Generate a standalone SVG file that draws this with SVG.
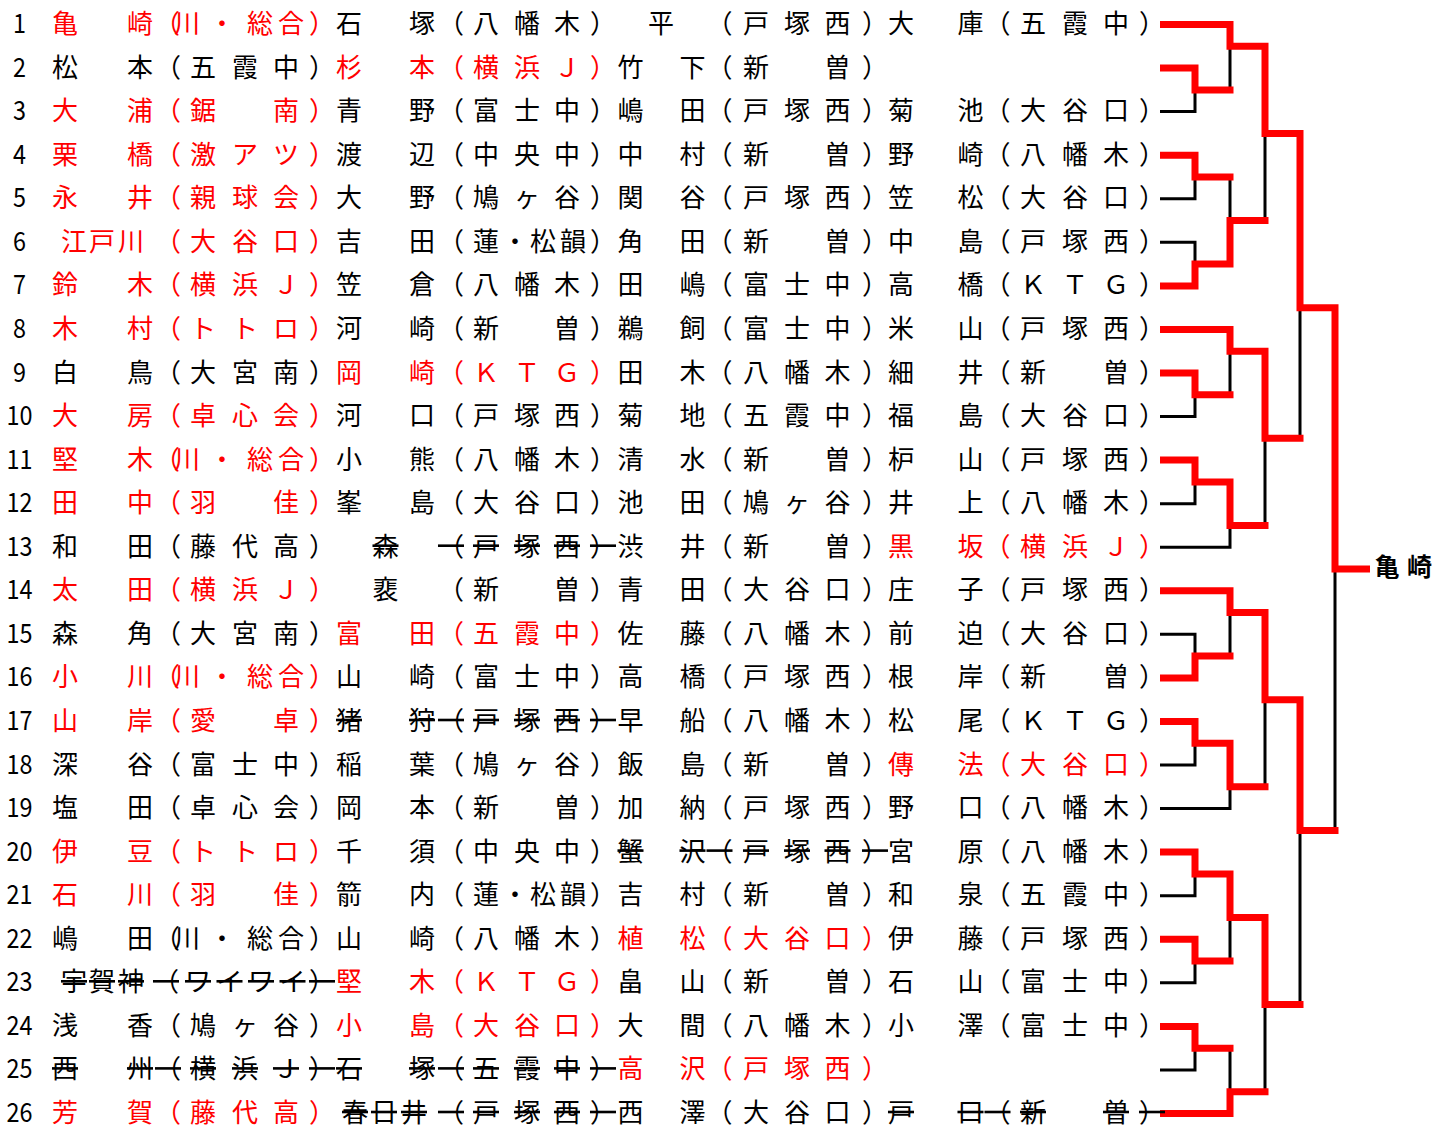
<svg xmlns="http://www.w3.org/2000/svg" width="1449" height="1129" viewBox="0 0 1449 1129">
<style>
.t{font-family:"Noto Sans CJK JP","Noto Sans CJK SC",sans-serif;font-size:26px;text-anchor:middle;fill:#000}
.r{fill:#f00}
.s{text-decoration:line-through}
.n{font-family:"Noto Sans CJK JP","Noto Sans CJK SC",sans-serif;font-size:27px;text-anchor:middle;fill:#000}
.champ{font-weight:700;font-size:25px}
.w{stroke:#f00;stroke-width:7;fill:none;stroke-linejoin:miter}
.b{stroke:#000;stroke-width:3;fill:none;stroke-linejoin:miter}
</style>
<rect width="1449" height="1129" fill="#fff"/>
<g id="connectors">
<g id="losers-black">
<path class="b" d="M1160,111.6H1195V89.9"/>
<path class="b" d="M1160,198.7H1195V177"/>
<path class="b" d="M1160,242.3H1195V264.1"/>
<path class="b" d="M1160,416.5H1195V394.8"/>
<path class="b" d="M1160,503.7H1195V481.9"/>
<path class="b" d="M1160,547.2H1230V525.5"/>
<path class="b" d="M1160,634.3H1195V656.1"/>
<path class="b" d="M1160,765H1195V743.3"/>
<path class="b" d="M1160,808.6H1230V786.8"/>
<path class="b" d="M1160,895.7H1195V873.9"/>
<path class="b" d="M1160,982.8H1195V961.1"/>
<path class="b" d="M1160,1069.9H1195V1048.2"/>
<path class="b" d="M1230,46.3V89.9M1230,177V220.5M1230,351.2V394.8M1230,612.6V656.1M1230,917.5V961.1M1230,1048.2V1091.7"/>
<path class="b" d="M1265,133.4V220.5M1265,438.3V525.5M1265,699.7V786.8M1265,1004.6V1091.7"/>
<path class="b" d="M1300,307.7V438.3M1300,830.4V1004.6"/>
<path class="b" d="M1335,569V830.4"/>
</g>
<g id="winners-red">
<path class="w" d="M1160,68.1H1195V89.9H1233.5"/>
<path class="w" d="M1160,155.2H1195V177H1233.5"/>
<path class="w" d="M1160,285.9H1195V264.1H1230V220.5H1268.5"/>
<path class="w" d="M1160,329.4H1230V351.2H1265V438.3H1303.5"/>
<path class="w" d="M1160,373H1195V394.8H1233.5"/>
<path class="w" d="M1160,460.1H1195V481.9H1230V525.5H1268.5"/>
<path class="w" d="M1160,590.8H1230V612.6H1265V699.7H1300V830.4H1338.5"/>
<path class="w" d="M1160,677.9H1195V656.1H1233.5"/>
<path class="w" d="M1160,721.5H1195V743.3H1230V786.8H1268.5"/>
<path class="w" d="M1160,852.1H1195V873.9H1230V917.5H1265V1004.6H1303.5"/>
<path class="w" d="M1160,939.3H1195V961.1H1233.5"/>
<path class="w" d="M1160,1026.4H1195V1048.2H1233.5"/>
<path class="w" d="M1160,1113.5H1230V1091.7H1268.5"/>
<path class="w" d="M1160,24.5H1230V46.3H1265V133.4H1300V307.7H1335V569H1370"/>
</g>
</g>
<g id="champion"><text class="t champ" x="1387 1419.5" y="575.5">亀崎</text></g>

<g id="row-1" transform="translate(0,33)">
<text class="n" x="19.5" y="0" textLength="13" lengthAdjust="spacingAndGlyphs">1</text>
<text class="t r" x="65 140 167 187 222 260 291 322" y="0">亀崎（川・総合）</text>
<text class="t" x="349 422 451 486 527 567 603" y="0">石塚（八幡木）</text>
<text class="t" x="661 719.5 756 797 837.5 875" y="0">平（戸塚西）</text>
<text class="t" x="901 970.5 997.5 1033 1075 1116 1152" y="0">大庫（五霞中）</text>
</g>
<g id="row-2" transform="translate(0,76.6)">
<text class="n" x="19.5" y="0" textLength="13" lengthAdjust="spacingAndGlyphs">2</text>
<text class="t" x="65 140 168 203 245 286 322" y="0">松本（五霞中）</text>
<text class="t r" x="349 422 451 486 527 567 603" y="0">杉本（横浜Ｊ）</text>
<text class="t" x="630.5 692.5 719.5 756 837.5 875" y="0">竹下（新曽）</text>
</g>
<g id="row-3" transform="translate(0,120.1)">
<text class="n" x="19.5" y="0" textLength="13" lengthAdjust="spacingAndGlyphs">3</text>
<text class="t r" x="65 140 168 203 286 322" y="0">大浦（鋸南）</text>
<text class="t" x="349 422 451 486 527 567 603" y="0">青野（富士中）</text>
<text class="t" x="630.5 692.5 719.5 756 797 837.5 875" y="0">嶋田（戸塚西）</text>
<text class="t" x="901 970.5 997.5 1033 1075 1116 1152" y="0">菊池（大谷口）</text>
</g>
<g id="row-4" transform="translate(0,163.7)">
<text class="n" x="19.5" y="0" textLength="13" lengthAdjust="spacingAndGlyphs">4</text>
<text class="t r" x="65 140 168 203 245 286 322" y="0">栗橋（激アツ）</text>
<text class="t" x="349 422 451 486 527 567 603" y="0">渡辺（中央中）</text>
<text class="t" x="630.5 692.5 719.5 756 837.5 875" y="0">中村（新曽）</text>
<text class="t" x="901 970.5 997.5 1033 1075 1116 1152" y="0">野崎（八幡木）</text>
</g>
<g id="row-5" transform="translate(0,207.2)">
<text class="n" x="19.5" y="0" textLength="13" lengthAdjust="spacingAndGlyphs">5</text>
<text class="t r" x="65 140 168 203 245 286 322" y="0">永井（親球会）</text>
<text class="t" x="349 422 451 486 527 567 603" y="0">大野（鳩ヶ谷）</text>
<text class="t" x="630.5 692.5 719.5 756 797 837.5 875" y="0">関谷（戸塚西）</text>
<text class="t" x="901 970.5 997.5 1033 1075 1116 1152" y="0">笠松（大谷口）</text>
</g>
<g id="row-6" transform="translate(0,250.8)">
<text class="n" x="19.5" y="0" textLength="13" lengthAdjust="spacingAndGlyphs">6</text>
<text class="t r" x="74 102 131 168 203 245 286 322" y="0">江戸川（大谷口）</text>
<text class="t" x="349 422 451 486 515 543 573 603" y="0">吉田（蓮・松韻）</text>
<text class="t" x="630.5 692.5 719.5 756 837.5 875" y="0">角田（新曽）</text>
<text class="t" x="901 970.5 997.5 1033 1075 1116 1152" y="0">中島（戸塚西）</text>
</g>
<g id="row-7" transform="translate(0,294.4)">
<text class="n" x="19.5" y="0" textLength="13" lengthAdjust="spacingAndGlyphs">7</text>
<text class="t r" x="65 140 168 203 245 286 322" y="0">鈴木（横浜Ｊ）</text>
<text class="t" x="349 422 451 486 527 567 603" y="0">笠倉（八幡木）</text>
<text class="t" x="630.5 692.5 719.5 756 797 837.5 875" y="0">田嶋（富士中）</text>
<text class="t" x="901 970.5 997.5 1033 1075 1116 1152" y="0">高橋（ＫＴＧ）</text>
</g>
<g id="row-8" transform="translate(0,337.9)">
<text class="n" x="19.5" y="0" textLength="13" lengthAdjust="spacingAndGlyphs">8</text>
<text class="t r" x="65 140 168 203 245 286 322" y="0">木村（トトロ）</text>
<text class="t" x="349 422 451 486 567 603" y="0">河崎（新曽）</text>
<text class="t" x="630.5 692.5 719.5 756 797 837.5 875" y="0">鵜飼（富士中）</text>
<text class="t" x="901 970.5 997.5 1033 1075 1116 1152" y="0">米山（戸塚西）</text>
</g>
<g id="row-9" transform="translate(0,381.5)">
<text class="n" x="19.5" y="0" textLength="13" lengthAdjust="spacingAndGlyphs">9</text>
<text class="t" x="65 140 168 203 245 286 322" y="0">白鳥（大宮南）</text>
<text class="t r" x="349 422 451 486 527 567 603" y="0">岡崎（ＫＴＧ）</text>
<text class="t" x="630.5 692.5 719.5 756 797 837.5 875" y="0">田木（八幡木）</text>
<text class="t" x="901 970.5 997.5 1033 1116 1152" y="0">細井（新曽）</text>
</g>
<g id="row-10" transform="translate(0,425)">
<text class="n" x="19.5" y="0" textLength="26" lengthAdjust="spacingAndGlyphs">10</text>
<text class="t r" x="65 140 168 203 245 286 322" y="0">大房（卓心会）</text>
<text class="t" x="349 422 451 486 527 567 603" y="0">河口（戸塚西）</text>
<text class="t" x="630.5 692.5 719.5 756 797 837.5 875" y="0">菊地（五霞中）</text>
<text class="t" x="901 970.5 997.5 1033 1075 1116 1152" y="0">福島（大谷口）</text>
</g>
<g id="row-11" transform="translate(0,468.6)">
<text class="n" x="19.5" y="0" textLength="26" lengthAdjust="spacingAndGlyphs">11</text>
<text class="t r" x="65 140 167 187 222 260 291 322" y="0">堅木（川・総合）</text>
<text class="t" x="349 422 451 486 527 567 603" y="0">小熊（八幡木）</text>
<text class="t" x="630.5 692.5 719.5 756 837.5 875" y="0">清水（新曽）</text>
<text class="t" x="901 970.5 997.5 1033 1075 1116 1152" y="0">枦山（戸塚西）</text>
</g>
<g id="row-12" transform="translate(0,512.2)">
<text class="n" x="19.5" y="0" textLength="26" lengthAdjust="spacingAndGlyphs">12</text>
<text class="t r" x="65 140 168 203 286 322" y="0">田中（羽佳）</text>
<text class="t" x="349 422 451 486 527 567 603" y="0">峯島（大谷口）</text>
<text class="t" x="630.5 692.5 719.5 756 797 837.5 875" y="0">池田（鳩ヶ谷）</text>
<text class="t" x="901 970.5 997.5 1033 1075 1116 1152" y="0">井上（八幡木）</text>
</g>
<g id="row-13" transform="translate(0,555.7)">
<text class="n" x="19.5" y="0" textLength="26" lengthAdjust="spacingAndGlyphs">13</text>
<text class="t" x="65 140 168 203 245 286 322" y="0">和田（藤代高）</text>
<text class="t s" x="385.5 451 486 527 567 603" y="0">森（戸塚西）</text>
<text class="t" x="630.5 692.5 719.5 756 837.5 875" y="0">渋井（新曽）</text>
<text class="t r" x="901 970.5 997.5 1033 1075 1116 1152" y="0">黒坂（横浜Ｊ）</text>
</g>
<g id="row-14" transform="translate(0,599.3)">
<text class="n" x="19.5" y="0" textLength="26" lengthAdjust="spacingAndGlyphs">14</text>
<text class="t r" x="65 140 168 203 245 286 322" y="0">太田（横浜Ｊ）</text>
<text class="t" x="385.5 451 486 567 603" y="0">裵（新曽）</text>
<text class="t" x="630.5 692.5 719.5 756 797 837.5 875" y="0">青田（大谷口）</text>
<text class="t" x="901 970.5 997.5 1033 1075 1116 1152" y="0">庄子（戸塚西）</text>
</g>
<g id="row-15" transform="translate(0,642.8)">
<text class="n" x="19.5" y="0" textLength="26" lengthAdjust="spacingAndGlyphs">15</text>
<text class="t" x="65 140 168 203 245 286 322" y="0">森角（大宮南）</text>
<text class="t r" x="349 422 451 486 527 567 603" y="0">富田（五霞中）</text>
<text class="t" x="630.5 692.5 719.5 756 797 837.5 875" y="0">佐藤（八幡木）</text>
<text class="t" x="901 970.5 997.5 1033 1075 1116 1152" y="0">前迫（大谷口）</text>
</g>
<g id="row-16" transform="translate(0,686.4)">
<text class="n" x="19.5" y="0" textLength="26" lengthAdjust="spacingAndGlyphs">16</text>
<text class="t r" x="65 140 167 187 222 260 291 322" y="0">小川（川・総合）</text>
<text class="t" x="349 422 451 486 527 567 603" y="0">山崎（富士中）</text>
<text class="t" x="630.5 692.5 719.5 756 797 837.5 875" y="0">高橋（戸塚西）</text>
<text class="t" x="901 970.5 997.5 1033 1116 1152" y="0">根岸（新曽）</text>
</g>
<g id="row-17" transform="translate(0,730)">
<text class="n" x="19.5" y="0" textLength="26" lengthAdjust="spacingAndGlyphs">17</text>
<text class="t r" x="65 140 168 203 286 322" y="0">山岸（愛卓）</text>
<text class="t s" x="349 422 451 486 527 567 603" y="0">猪狩（戸塚西）</text>
<text class="t" x="630.5 692.5 719.5 756 797 837.5 875" y="0">早船（八幡木）</text>
<text class="t" x="901 970.5 997.5 1033 1075 1116 1152" y="0">松尾（ＫＴＧ）</text>
</g>
<g id="row-18" transform="translate(0,773.5)">
<text class="n" x="19.5" y="0" textLength="26" lengthAdjust="spacingAndGlyphs">18</text>
<text class="t" x="65 140 168 203 245 286 322" y="0">深谷（富士中）</text>
<text class="t" x="349 422 451 486 527 567 603" y="0">稲葉（鳩ヶ谷）</text>
<text class="t" x="630.5 692.5 719.5 756 837.5 875" y="0">飯島（新曽）</text>
<text class="t r" x="901 970.5 997.5 1033 1075 1116 1152" y="0">傳法（大谷口）</text>
</g>
<g id="row-19" transform="translate(0,817.1)">
<text class="n" x="19.5" y="0" textLength="26" lengthAdjust="spacingAndGlyphs">19</text>
<text class="t" x="65 140 168 203 245 286 322" y="0">塩田（卓心会）</text>
<text class="t" x="349 422 451 486 567 603" y="0">岡本（新曽）</text>
<text class="t" x="630.5 692.5 719.5 756 797 837.5 875" y="0">加納（戸塚西）</text>
<text class="t" x="901 970.5 997.5 1033 1075 1116 1152" y="0">野口（八幡木）</text>
</g>
<g id="row-20" transform="translate(0,860.6)">
<text class="n" x="19.5" y="0" textLength="26" lengthAdjust="spacingAndGlyphs">20</text>
<text class="t r" x="65 140 168 203 245 286 322" y="0">伊豆（トトロ）</text>
<text class="t" x="349 422 451 486 527 567 603" y="0">千須（中央中）</text>
<text class="t s" x="630.5 692.5 719.5 756 797 837.5 875" y="0">蟹沢（戸塚西）</text>
<text class="t" x="901 970.5 997.5 1033 1075 1116 1152" y="0">宮原（八幡木）</text>
</g>
<g id="row-21" transform="translate(0,904.2)">
<text class="n" x="19.5" y="0" textLength="26" lengthAdjust="spacingAndGlyphs">21</text>
<text class="t r" x="65 140 168 203 286 322" y="0">石川（羽佳）</text>
<text class="t" x="349 422 451 486 515 543 573 603" y="0">箭内（蓮・松韻）</text>
<text class="t" x="630.5 692.5 719.5 756 837.5 875" y="0">吉村（新曽）</text>
<text class="t" x="901 970.5 997.5 1033 1075 1116 1152" y="0">和泉（五霞中）</text>
</g>
<g id="row-22" transform="translate(0,947.8)">
<text class="n" x="19.5" y="0" textLength="26" lengthAdjust="spacingAndGlyphs">22</text>
<text class="t" x="65 140 167 187 222 260 291 322" y="0">嶋田（川・総合）</text>
<text class="t" x="349 422 451 486 527 567 603" y="0">山崎（八幡木）</text>
<text class="t r" x="630.5 692.5 719.5 756 797 837.5 875" y="0">植松（大谷口）</text>
<text class="t" x="901 970.5 997.5 1033 1075 1116 1152" y="0">伊藤（戸塚西）</text>
</g>
<g id="row-23" transform="translate(0,991.3)">
<text class="n" x="19.5" y="0" textLength="26" lengthAdjust="spacingAndGlyphs">23</text>
<text class="t s" x="74 102 131 166 198 229.5 261 292.5 322" y="0">宇賀神（ワイワイ）</text>
<text class="t r" x="349 422 451 486 527 567 603" y="0">堅木（ＫＴＧ）</text>
<text class="t" x="630.5 692.5 719.5 756 837.5 875" y="0">畠山（新曽）</text>
<text class="t" x="901 970.5 997.5 1033 1075 1116 1152" y="0">石山（富士中）</text>
</g>
<g id="row-24" transform="translate(0,1034.9)">
<text class="n" x="19.5" y="0" textLength="26" lengthAdjust="spacingAndGlyphs">24</text>
<text class="t" x="65 140 168 203 245 286 322" y="0">浅香（鳩ヶ谷）</text>
<text class="t r" x="349 422 451 486 527 567 603" y="0">小島（大谷口）</text>
<text class="t" x="630.5 692.5 719.5 756 797 837.5 875" y="0">大間（八幡木）</text>
<text class="t" x="901 970.5 997.5 1033 1075 1116 1152" y="0">小澤（富士中）</text>
</g>
<g id="row-25" transform="translate(0,1078.4)">
<text class="n" x="19.5" y="0" textLength="26" lengthAdjust="spacingAndGlyphs">25</text>
<text class="t s" x="65 140 168 203 245 286 322" y="0">西州（横浜Ｊ）</text>
<text class="t s" x="349 422 451 486 527 567 603" y="0">石塚（五霞中）</text>
<text class="t r" x="630.5 692.5 719.5 756 797 837.5 875" y="0">高沢（戸塚西）</text>
</g>
<g id="row-26" transform="translate(0,1122)">
<text class="n" x="19.5" y="0" textLength="26" lengthAdjust="spacingAndGlyphs">26</text>
<text class="t r" x="65 140 168 203 245 286 322" y="0">芳賀（藤代高）</text>
<text class="t s" x="355 384 414 451 486 527 567 603" y="0">春日井（戸塚西）</text>
<text class="t" x="630.5 692.5 719.5 756 797 837.5 875" y="0">西澤（大谷口）</text>
<text class="t s" x="901 970.5 997.5 1033 1116 1152" y="0">戸口（新曽）</text>
</g>
</svg>
